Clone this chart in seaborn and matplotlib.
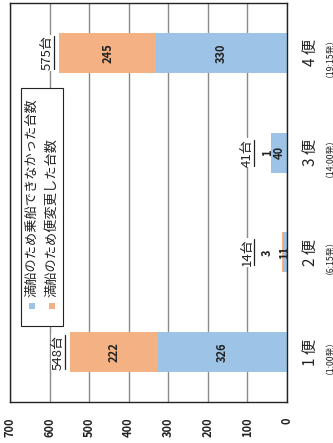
import matplotlib
matplotlib.use("Agg")
import matplotlib.pyplot as plt
import matplotlib.transforms as mtransforms
from matplotlib.lines import Line2D
from matplotlib.patches import Rectangle
import pandas as pd
import seaborn as sns

# data
flights = ["1 便", "2 便", "3 便", "4 便"]
departs = ["（1:00発）", "（6:15発）", "（14:00発）", "（19:15発）"]
could_not_board = [326, 11, 40, 330]    # blue
changed_flight = [222, 3, 1, 245]       # orange
totals = [548, 14, 41, 575]
total_labels = ["548台", "14台", "41台", "575台"]
legend_labels = ["満船のため乗船できなかった台数", "満船のため便変更した台数"]
value_ticks = [0, 100, 200, 300, 400, 500, 600, 700]

BLUE = "#9DC3E6"
ORANGE = "#F4B183"
FONT = ["Noto Sans CJK JP", "DejaVu Sans"]

sns.set_theme(style="white")
plt.rcParams["font.family"] = FONT

df = pd.DataFrame({"flight": flights, "blue": could_not_board,
                   "orange": changed_flight, "total": totals})
order = flights[::-1]  # 4便 at top, 1便 at bottom

fig = plt.figure(figsize=(3.33, 4.43), dpi=100)
ax = fig.add_axes([0.030, 0.0926, 0.832, 0.9006])

sns.barplot(data=df, x="total", y="flight", order=order, orient="h", color=ORANGE,
            saturation=1, width=0.4, errorbar=None, linewidth=0, ax=ax)
sns.barplot(data=df, x="blue", y="flight", order=order, orient="h", color=BLUE,
            saturation=1, width=0.4, errorbar=None, linewidth=0, ax=ax)

ax.set_xlim(700, 0)
ax.set_ylim(3.5, -0.5)
ax.set_xlabel("")
ax.set_ylabel("")
ax.set_axisbelow(True)
ax.xaxis.grid(True, color="#8a8a8a", lw=1)
ax.yaxis.grid(False)
for sp in ax.spines.values():
    sp.set_color("#222222")
    sp.set_linewidth(1)

ax.set_xticks(value_ticks)
ax.set_xticklabels([str(v) for v in value_ticks], rotation=90, fontweight="bold",
                   fontsize=8, color="#222222")
ax.tick_params(axis="x", length=0, pad=11)
ax.yaxis.tick_right()
ax.set_yticks(range(len(order)))
ax.set_yticklabels(order, rotation=90, fontsize=11, color="#222222", va="center")
ax.tick_params(axis="y", length=0, pad=11)

# departure times under the flight names
trans = mtransforms.blended_transform_factory(ax.transAxes, ax.transData)
for name, dep in zip(flights, departs):
    ax.text(1.137, order.index(name), dep, transform=trans, rotation=90,
            ha="center", va="center", fontsize=6.3, color="#222222")

# segment values and totals
total_texts = []
for i, name in enumerate(flights):
    y = order.index(name)
    b, o, t = could_not_board[i], changed_flight[i], totals[i]
    ax.text(b / 2, y, str(b), rotation=90, ha="center", va="center",
            fontsize=8, fontweight="bold", color="#222222")
    if t > 100:
        ax.text(b + o / 2, y, str(o), rotation=90, ha="center", va="center",
                fontsize=8, fontweight="bold", color="#222222")
        tx = t + 31
    else:
        ax.text(50, y, str(o), rotation=90, ha="center", va="center",
                fontsize=8, fontweight="bold", color="#222222")
        tx = 100
    total_texts.append(ax.text(tx, y, total_labels[i], rotation=90, ha="center",
                               va="center", fontsize=9.5, color="#222222",
                               bbox=dict(fc="white", ec="none", pad=0.5)))

# legend drawn by hand (chart is rotated)
ax.add_patch(Rectangle((0.040, 0.190), 0.151, 0.597, transform=ax.transAxes,
                       fc="white", ec="#222222", lw=0.8, zorder=5))
for k, (lab, col) in enumerate(zip(legend_labels, [BLUE, ORANGE])):
    xc = 0.080 + k * 0.072
    ax.add_patch(Rectangle((xc - 0.011, 0.233), 0.022, 0.016, transform=ax.transAxes,
                           fc=col, ec="none", zorder=6))
    ax.text(xc, 0.262, lab, transform=ax.transAxes, rotation=90, rotation_mode="anchor",
            ha="left", va="center", fontsize=9.5, color="#222222", zorder=6)

# underline the totals (right side of rotated text)
fig.canvas.draw()
renderer = fig.canvas.get_renderer()
for t in total_texts:
    bb = t.get_window_extent(renderer)
    fig.add_artist(Line2D([bb.x1 + 0.5, bb.x1 + 0.5], [bb.y0 + 1, bb.y1 - 1],
                          transform=mtransforms.IdentityTransform(),
                          color="#222222", lw=0.9))

fig.savefig("out.png", dpi=100)
